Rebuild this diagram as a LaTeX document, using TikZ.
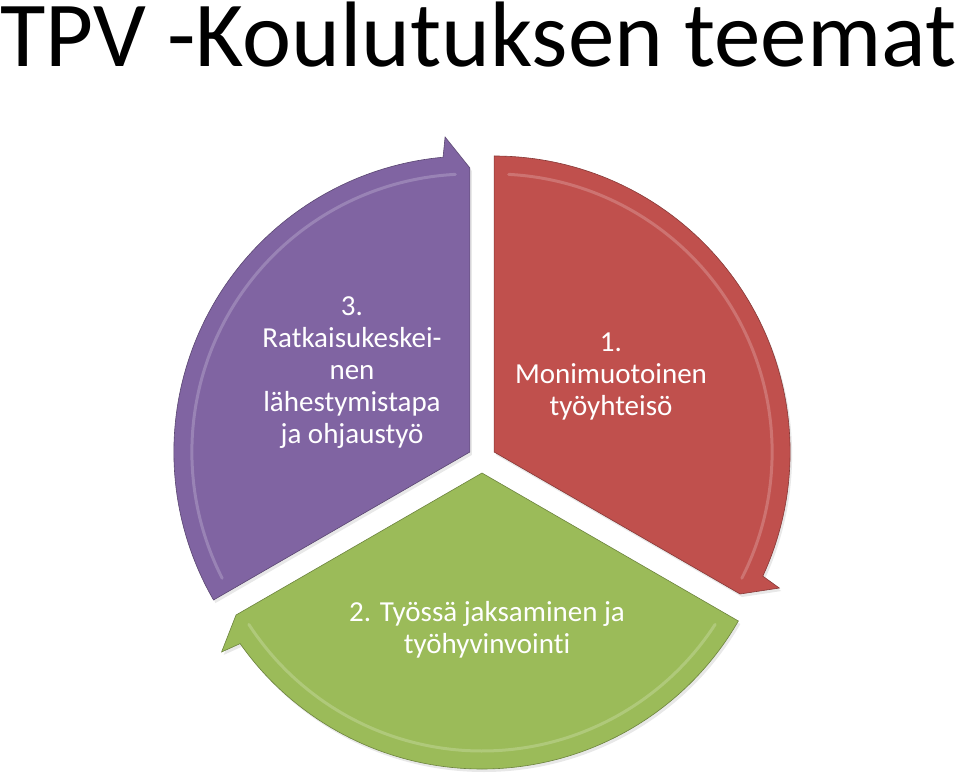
\documentclass[tikz,border=0pt]{standalone}
\usepackage{fontspec}
\setmainfont{Carlito}[Ligatures=NoCommon]
\usetikzlibrary{shadows}
\definecolor{segred}{HTML}{C0504D}
\definecolor{seggreen}{HTML}{9BBB59}
\definecolor{segpurple}{HTML}{8064A2}
\begin{document}
\begin{tikzpicture}[x=1pt,y=1pt,
    sectorfill/.style={fill=#1, draw=#1!70!black, line width=.6pt, line join=miter,
      drop shadow={opacity=.18, shadow xshift=2pt, shadow yshift=-3pt}},
    ridge/.style={draw=#1!80!white, line width=3pt, line cap=round},
    theme/.style={text=white, align=center, inner sep=0pt,
      font=\fontsize{29}{32}\selectfont}]
      \pgfmathsetmacro{\r}{296}
      \pgfmathsetmacro{\d}{14}
      \useasboundingbox (-482,-322) rectangle (478,459);

      \node[font=\fontsize{93}{93}\selectfont, anchor=base, inner sep=0pt] (title) at (-3.5,392) {TPV -Koulutuksen teemat};

      \coordinate (R) at (30:\d);
      \coordinate (G) at (270:\d);
      \coordinate (V) at (150:\d);

      % red sector
      \begin{scope}[shift={(R)}]
        \draw[sectorfill=segred] (0,0) -- (90:\r) arc[start angle=90, end angle=-24.8, radius=\r]
          -- (-25.5:{\r+20}) -- (-30:{\r-12}) -- cycle;
        \draw[ridge=segred] (87:{\r-18}) arc[start angle=87, end angle=-27, radius={\r-18}];
      \end{scope}

      % green sector
      \begin{scope}[shift={(G)}]
        \draw[sectorfill=seggreen] (0,0) -- (-30:\r) arc[start angle=-30, end angle=-144.8, radius=\r]
          -- (-145.5:{\r+20}) -- (-150:{\r-12}) -- cycle;
        \draw[ridge=seggreen] (-33:{\r-18}) arc[start angle=-33, end angle=-147, radius={\r-18}];
      \end{scope}

      % purple sector
      \begin{scope}[shift={(V)}]
        \draw[sectorfill=segpurple] (0,0) -- (210:\r) arc[start angle=210, end angle=95.2, radius=\r]
          -- (94.5:{\r+20}) -- (90:{\r-12}) -- cycle;
        \draw[ridge=segpurple] (207:{\r-18}) arc[start angle=207, end angle=93, radius={\r-18}];
      \end{scope}

      \node[theme] (one) at (129,82) {1.\\Monimuotoinen\\työyhteisö};
      \node[theme] (two) at (5,-171) {2. Työssä jaksaminen ja\\työhyvinvointi};
      \node[theme] (three) at (-130,86) {3.\\Ratkaisukeskei-\\nen\\lähestymistapa\\ja ohjaustyö};
\end{tikzpicture}
\end{document}
